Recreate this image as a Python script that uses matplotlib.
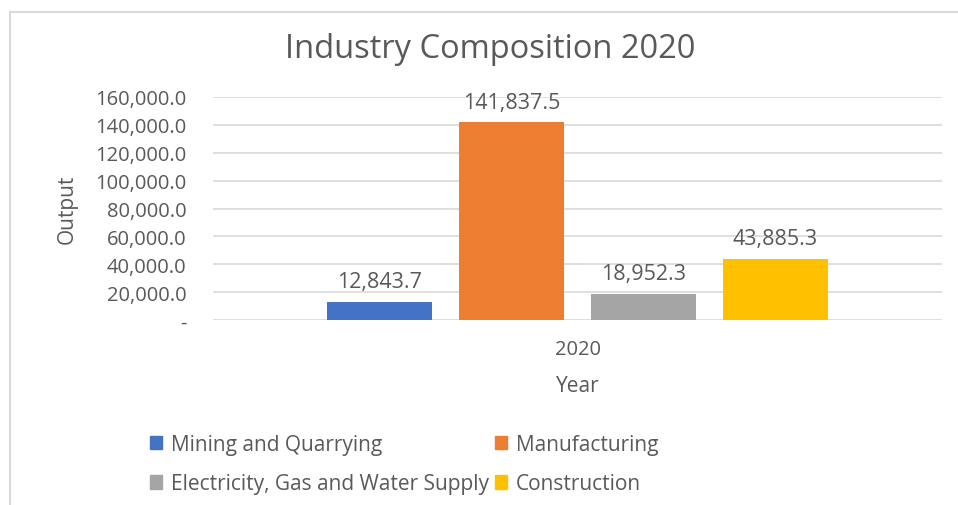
import matplotlib.pyplot as plt
from matplotlib.patches import Patch

# data
series = ["Mining and Quarrying", "Manufacturing",
          "Electricity, Gas and Water Supply", "Construction"]
values = [12843.7, 141837.5, 18952.3, 43885.3]
colors = ["#4472c4", "#ed7d31", "#a5a5a5", "#ffc000"]
yticks = [0, 20000, 40000, 60000, 80000, 100000, 120000, 140000, 160000]
category = "2020"

plt.rcParams["font.family"] = ["Open Sans", "DejaVu Sans"]
text_color = "#595959"

fig = plt.figure(figsize=(9.58, 5.06), dpi=100)
ax = fig.add_axes([213 / 958, 1 - 321 / 506, (942 - 213) / 958, (321 - 98) / 506])

step = 0.181
width = 0.143
for i, (name, v, c) in enumerate(zip(series, values, colors)):
    x = 0.5 + (i - 1.5) * step
    ax.bar(x, v, width, color=c, label=name, zorder=3)
    ax.annotate(f"{v:,.1f}", (x, v), xytext=(0, 7), textcoords="offset points",
                ha="center", va="bottom", fontsize=15.5, color=text_color)

ax.set_xlim(0, 1)
ax.set_ylim(0, 160000)
ax.set_yticks(yticks)
ax.set_yticklabels(["-" if t == 0 else f"{t:,.1f}" for t in yticks])
ax.set_xticks([0.5])
ax.set_xticklabels([category])
ax.tick_params(length=0, labelsize=14.5, labelcolor=text_color)
ax.tick_params(axis="y", pad=19)
ax.tick_params(axis="x", pad=14)
ax.grid(axis="y", color="#d9d9d9", linewidth=1.2, zorder=0)
for s in ax.spines.values():
    s.set_visible(False)

ax.set_ylabel("Output", fontsize=15, color=text_color, labelpad=13)
ax.set_xlabel("Year", fontsize=15, color=text_color, labelpad=11)
fig.text(490 / 958, 1 - 50 / 506, "Industry Composition 2020", ha="center", va="center",
         fontsize=23.5, color=text_color)

# outer chart frame (top and left edges visible in the crop)
fig.add_artist(plt.Line2D([10 / 958, 1], [1 - 13 / 506] * 2, color="#d9d9d9", lw=1.5))
fig.add_artist(plt.Line2D([10 / 958] * 2, [0, 1 - 13 / 506], color="#d9d9d9", lw=1.5))

# legend filled row by row, like the reference
order = [0, 2, 1, 3]
handles = [Patch(color=colors[k], label=series[k]) for k in order]
leg = fig.legend(handles=handles, ncol=2, loc="center left",
                 bbox_to_anchor=(131 / 958, 1 - 465 / 506), frameon=False,
                 fontsize=15, handlelength=0.6, handleheight=0.6,
                 handletextpad=0.4, columnspacing=0.3, labelspacing=0.9)
for t in leg.get_texts():
    t.set_color(text_color)

fig.savefig("out.png", dpi=100)
